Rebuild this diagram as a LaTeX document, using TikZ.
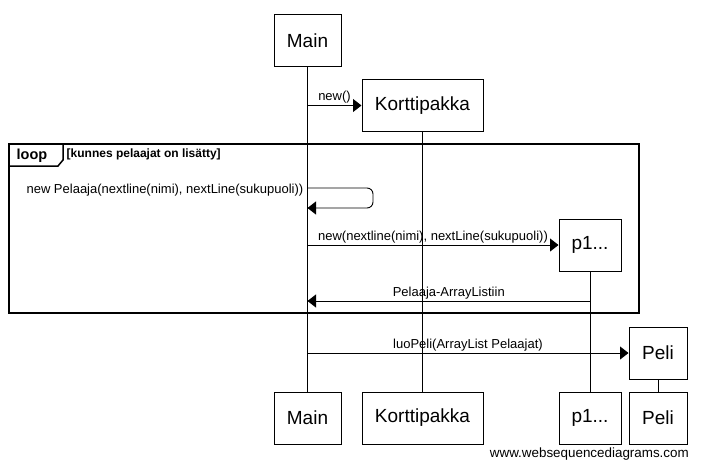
\documentclass[tikz,border=0pt]{standalone}
\usepackage{fontspec}
\setmainfont{Liberation Sans}
\usetikzlibrary{arrows.meta}
\begin{document}
\begin{tikzpicture}[x=1pt,y=-1pt,
  actor/.style={draw, line width=1pt, minimum height=52pt, inner sep=0pt, fill=white, font=\fontsize{19}{22}\selectfont},
  msg/.style={line width=0.9pt, -{Triangle[length=8.5pt,width=13pt]}},
  lbl/.style={font=\fontsize{13}{15}\selectfont, inner sep=1.5pt},
  life/.style={line width=1pt},
  frame/.style={line width=1.8pt},
  wm/.style={font=\fontsize{13.4}{15}\selectfont, inner sep=0pt}]
\useasboundingbox (0,0) rectangle (701,468);
% actors (top)
\node[actor, minimum width=67pt]  (mainT) at (307.5,40.5)  {Main};
\node[actor, minimum width=121pt] (kortT) at (422.5,105.5) {Korttipakka};
\node[actor, minimum width=62pt]  (p1T)   at (590,245)     {p1...};
\node[actor, minimum width=58pt]  (peliT) at (658,353)     {Peli};
% actors (bottom)
\node[actor, minimum width=67pt]  (mainB) at (307.5,418) {Main};
\node[actor, minimum width=121pt] (kortB) at (422.5,418) {Korttipakka};
\node[actor, minimum width=62pt]  (p1B)   at (590,418)   {p1...};
\node[actor, minimum width=58pt]  (peliB) at (658,418)   {Peli};
% lifelines
\draw[life] (mainT.south) -- (mainB.north);
\draw[life] (kortT.south) -- (kortB.north);
\draw[life] (p1T.south) -- (p1B.north);
\draw[life] (peliT.south) -- (peliB.north);
% loop frame
\draw[frame] (9,144) rectangle (639,313);
\draw[line width=1.5pt, fill=white] (9,144) -- (63,144) -- (63,160) -- (58,166) -- (9,166) -- cycle;
\node[font=\fontsize{14.5}{16}\selectfont\bfseries, inner sep=0pt] (looplbl) at (32,156) {loop};
\node[font=\fontsize{12}{14}\selectfont\bfseries, anchor=west, inner sep=0pt] (loopcond) at (66.5,154) {[kunnes pelaajat on lisätty]};
% messages
\coordinate (m1) at (mainT.south |- 0,105.5);
\draw[msg] (m1) -- node[lbl, above] {new()} (kortT.west);
\coordinate (s1) at (mainT.south |- 0,188);
\coordinate (s2) at (mainT.south |- 0,208);
\draw[msg, rounded corners=6pt] (s1) -- (373,188) -- (373,208) -- (s2);
\node[lbl, anchor=east] (selflbl) at (305,190) {new Pelaaja(nextline(nimi), nextLine(sukupuoli))};
\coordinate (m3) at (mainT.south |- 0,245);
\draw[msg] (m3) -- node[lbl, above] {new(nextline(nimi), nextLine(sukupuoli))} (p1T.west);
\coordinate (r1) at (p1T.south |- 0,301);
\coordinate (r2) at (mainT.south |- 0,301);
\draw[msg] (r1) -- node[lbl, above] {Pelaaja-ArrayListiin} (r2);
\coordinate (m4) at (mainT.south |- 0,353);
\draw[msg] (m4) -- node[lbl, above] {luoPeli(ArrayList Pelaajat)} (peliT.west);
% watermark
\node[wm, anchor=east] (wmark) at (689,454) {www.websequencediagrams.com};
\end{tikzpicture}
\end{document}
